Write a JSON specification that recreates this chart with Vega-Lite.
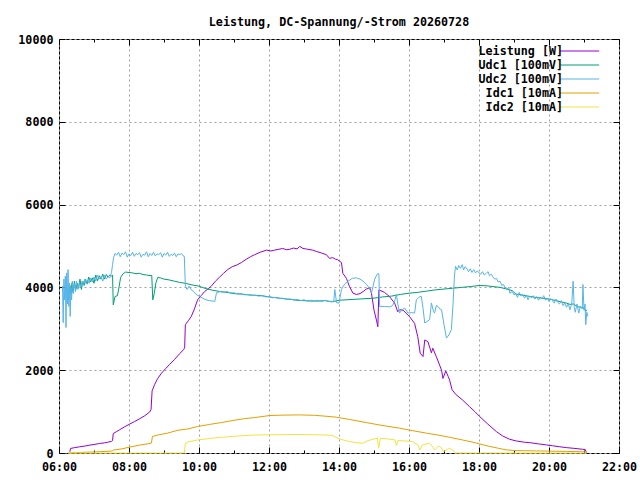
{
  "$schema": "https://vega.github.io/schema/vega-lite/v6.json",
  "width": 560,
  "height": 414,
  "autosize": {"type": "none"},
  "padding": {"left": 59, "top": 39, "right": 21, "bottom": 27},
  "background": "white",
  "title": {"text": "Leistung, DC-Spannung/-Strom 20260728", "offset": 5, "font": "DejaVu Sans Mono", "fontSize": 11.7, "fontWeight": "bold", "color": "black", "anchor": "middle"},
  "data": {"values": [
    {"s":"Leistung [W]","t":6.31,"v":30},{"s":"Leistung [W]","t":6.33,"v":110},{"s":"Leistung [W]","t":6.45,"v":130},{"s":"Leistung [W]","t":6.59,"v":150},{"s":"Leistung [W]","t":6.75,"v":170},{"s":"Leistung [W]","t":6.88,"v":190},{"s":"Leistung [W]","t":7.0,"v":205},{"s":"Leistung [W]","t":7.16,"v":230},{"s":"Leistung [W]","t":7.3,"v":245},{"s":"Leistung [W]","t":7.39,"v":260},{"s":"Leistung [W]","t":7.5,"v":280},{"s":"Leistung [W]","t":7.53,"v":300},{"s":"Leistung [W]","t":7.55,"v":470},{"s":"Leistung [W]","t":7.65,"v":520},{"s":"Leistung [W]","t":7.73,"v":560},{"s":"Leistung [W]","t":7.87,"v":630},{"s":"Leistung [W]","t":8.02,"v":700},{"s":"Leistung [W]","t":8.16,"v":760},{"s":"Leistung [W]","t":8.31,"v":830},{"s":"Leistung [W]","t":8.45,"v":900},{"s":"Leistung [W]","t":8.59,"v":990},{"s":"Leistung [W]","t":8.63,"v":1050},{"s":"Leistung [W]","t":8.66,"v":1500},{"s":"Leistung [W]","t":8.73,"v":1650},{"s":"Leistung [W]","t":8.82,"v":1800},{"s":"Leistung [W]","t":8.93,"v":1930},{"s":"Leistung [W]","t":9.05,"v":2040},{"s":"Leistung [W]","t":9.16,"v":2140},{"s":"Leistung [W]","t":9.3,"v":2260},{"s":"Leistung [W]","t":9.45,"v":2400},{"s":"Leistung [W]","t":9.56,"v":2500},{"s":"Leistung [W]","t":9.59,"v":2540},{"s":"Leistung [W]","t":9.61,"v":3100},{"s":"Leistung [W]","t":9.7,"v":3200},{"s":"Leistung [W]","t":9.78,"v":3300},{"s":"Leistung [W]","t":9.87,"v":3480},{"s":"Leistung [W]","t":9.96,"v":3700},{"s":"Leistung [W]","t":10.06,"v":3800},{"s":"Leistung [W]","t":10.16,"v":3900},{"s":"Leistung [W]","t":10.25,"v":3960},{"s":"Leistung [W]","t":10.35,"v":4030},{"s":"Leistung [W]","t":10.47,"v":4150},{"s":"Leistung [W]","t":10.59,"v":4250},{"s":"Leistung [W]","t":10.7,"v":4340},{"s":"Leistung [W]","t":10.82,"v":4430},{"s":"Leistung [W]","t":10.95,"v":4500},{"s":"Leistung [W]","t":11.08,"v":4540},{"s":"Leistung [W]","t":11.21,"v":4600},{"s":"Leistung [W]","t":11.35,"v":4680},{"s":"Leistung [W]","t":11.47,"v":4740},{"s":"Leistung [W]","t":11.59,"v":4790},{"s":"Leistung [W]","t":11.75,"v":4850},{"s":"Leistung [W]","t":11.93,"v":4900},{"s":"Leistung [W]","t":12.05,"v":4880},{"s":"Leistung [W]","t":12.16,"v":4900},{"s":"Leistung [W]","t":12.28,"v":4920},{"s":"Leistung [W]","t":12.39,"v":4940},{"s":"Leistung [W]","t":12.5,"v":4910},{"s":"Leistung [W]","t":12.59,"v":4920},{"s":"Leistung [W]","t":12.7,"v":4950},{"s":"Leistung [W]","t":12.8,"v":4930},{"s":"Leistung [W]","t":12.88,"v":4990},{"s":"Leistung [W]","t":12.97,"v":4940},{"s":"Leistung [W]","t":13.05,"v":4930},{"s":"Leistung [W]","t":13.11,"v":4920},{"s":"Leistung [W]","t":13.25,"v":4900},{"s":"Leistung [W]","t":13.35,"v":4870},{"s":"Leistung [W]","t":13.5,"v":4830},{"s":"Leistung [W]","t":13.64,"v":4790},{"s":"Leistung [W]","t":13.73,"v":4700},{"s":"Leistung [W]","t":13.82,"v":4720},{"s":"Leistung [W]","t":13.9,"v":4680},{"s":"Leistung [W]","t":13.96,"v":4670},{"s":"Leistung [W]","t":14.07,"v":4600},{"s":"Leistung [W]","t":14.11,"v":4340},{"s":"Leistung [W]","t":14.21,"v":4220},{"s":"Leistung [W]","t":14.3,"v":4020},{"s":"Leistung [W]","t":14.4,"v":3860},{"s":"Leistung [W]","t":14.5,"v":3830},{"s":"Leistung [W]","t":14.6,"v":3850},{"s":"Leistung [W]","t":14.69,"v":3900},{"s":"Leistung [W]","t":14.78,"v":3960},{"s":"Leistung [W]","t":14.88,"v":3990},{"s":"Leistung [W]","t":14.93,"v":3850},{"s":"Leistung [W]","t":15.0,"v":3450},{"s":"Leistung [W]","t":15.07,"v":3210},{"s":"Leistung [W]","t":15.11,"v":3050},{"s":"Leistung [W]","t":15.14,"v":3940},{"s":"Leistung [W]","t":15.3,"v":3880},{"s":"Leistung [W]","t":15.44,"v":3780},{"s":"Leistung [W]","t":15.59,"v":3620},{"s":"Leistung [W]","t":15.68,"v":3410},{"s":"Leistung [W]","t":15.73,"v":3460},{"s":"Leistung [W]","t":15.83,"v":3450},{"s":"Leistung [W]","t":16.02,"v":3290},{"s":"Leistung [W]","t":16.16,"v":3130},{"s":"Leistung [W]","t":16.25,"v":2810},{"s":"Leistung [W]","t":16.32,"v":2410},{"s":"Leistung [W]","t":16.4,"v":2330},{"s":"Leistung [W]","t":16.45,"v":2730},{"s":"Leistung [W]","t":16.54,"v":2690},{"s":"Leistung [W]","t":16.64,"v":2420},{"s":"Leistung [W]","t":16.68,"v":2530},{"s":"Leistung [W]","t":16.78,"v":2330},{"s":"Leistung [W]","t":16.93,"v":2000},{"s":"Leistung [W]","t":16.97,"v":1800},{"s":"Leistung [W]","t":17.05,"v":1980},{"s":"Leistung [W]","t":17.12,"v":1850},{"s":"Leistung [W]","t":17.16,"v":1760},{"s":"Leistung [W]","t":17.23,"v":1530},{"s":"Leistung [W]","t":17.33,"v":1420},{"s":"Leistung [W]","t":17.53,"v":1280},{"s":"Leistung [W]","t":17.73,"v":1120},{"s":"Leistung [W]","t":17.88,"v":1000},{"s":"Leistung [W]","t":18.02,"v":880},{"s":"Leistung [W]","t":18.25,"v":700},{"s":"Leistung [W]","t":18.5,"v":515},{"s":"Leistung [W]","t":18.68,"v":410},{"s":"Leistung [W]","t":18.88,"v":330},{"s":"Leistung [W]","t":19.07,"v":290},{"s":"Leistung [W]","t":19.3,"v":260},{"s":"Leistung [W]","t":19.45,"v":250},{"s":"Leistung [W]","t":19.7,"v":220},{"s":"Leistung [W]","t":19.93,"v":195},{"s":"Leistung [W]","t":20.1,"v":175},{"s":"Leistung [W]","t":20.31,"v":150},{"s":"Leistung [W]","t":20.5,"v":130},{"s":"Leistung [W]","t":20.74,"v":110},{"s":"Leistung [W]","t":20.96,"v":90},{"s":"Leistung [W]","t":21.04,"v":80},{"s":"Leistung [W]","t":21.07,"v":0},

    {"s":"Udc1 [100mV]","t":6.25,"v":3950},{"s":"Udc1 [100mV]","t":6.28,"v":3700},{"s":"Udc1 [100mV]","t":6.31,"v":4050},{"s":"Udc1 [100mV]","t":6.34,"v":3850},{"s":"Udc1 [100mV]","t":6.37,"v":4100},{"s":"Udc1 [100mV]","t":6.4,"v":3880},{"s":"Udc1 [100mV]","t":6.44,"v":4150},{"s":"Udc1 [100mV]","t":6.48,"v":3950},{"s":"Udc1 [100mV]","t":6.52,"v":4100},{"s":"Udc1 [100mV]","t":6.56,"v":3980},{"s":"Udc1 [100mV]","t":6.6,"v":4200},{"s":"Udc1 [100mV]","t":6.64,"v":3950},{"s":"Udc1 [100mV]","t":6.68,"v":4150},{"s":"Udc1 [100mV]","t":6.72,"v":4050},{"s":"Udc1 [100mV]","t":6.76,"v":4200},{"s":"Udc1 [100mV]","t":6.8,"v":4080},{"s":"Udc1 [100mV]","t":6.85,"v":4250},{"s":"Udc1 [100mV]","t":6.9,"v":4130},{"s":"Udc1 [100mV]","t":6.95,"v":4230},{"s":"Udc1 [100mV]","t":7.0,"v":4100},{"s":"Udc1 [100mV]","t":7.05,"v":4300},{"s":"Udc1 [100mV]","t":7.1,"v":4160},{"s":"Udc1 [100mV]","t":7.15,"v":4280},{"s":"Udc1 [100mV]","t":7.2,"v":4200},{"s":"Udc1 [100mV]","t":7.25,"v":4320},{"s":"Udc1 [100mV]","t":7.3,"v":4200},{"s":"Udc1 [100mV]","t":7.35,"v":4310},{"s":"Udc1 [100mV]","t":7.4,"v":4250},{"s":"Udc1 [100mV]","t":7.45,"v":4300},{"s":"Udc1 [100mV]","t":7.5,"v":4270},{"s":"Udc1 [100mV]","t":7.53,"v":4300},{"s":"Udc1 [100mV]","t":7.55,"v":3580},{"s":"Udc1 [100mV]","t":7.6,"v":3780},{"s":"Udc1 [100mV]","t":7.67,"v":3800},{"s":"Udc1 [100mV]","t":7.72,"v":4030},{"s":"Udc1 [100mV]","t":7.76,"v":4240},{"s":"Udc1 [100mV]","t":7.83,"v":4330},{"s":"Udc1 [100mV]","t":7.9,"v":4370},{"s":"Udc1 [100mV]","t":8.0,"v":4360},{"s":"Udc1 [100mV]","t":8.1,"v":4350},{"s":"Udc1 [100mV]","t":8.2,"v":4330},{"s":"Udc1 [100mV]","t":8.3,"v":4340},{"s":"Udc1 [100mV]","t":8.4,"v":4310},{"s":"Udc1 [100mV]","t":8.5,"v":4300},{"s":"Udc1 [100mV]","t":8.6,"v":4285},{"s":"Udc1 [100mV]","t":8.65,"v":4290},{"s":"Udc1 [100mV]","t":8.68,"v":3700},{"s":"Udc1 [100mV]","t":8.72,"v":3850},{"s":"Udc1 [100mV]","t":8.77,"v":4110},{"s":"Udc1 [100mV]","t":8.82,"v":4240},{"s":"Udc1 [100mV]","t":8.9,"v":4230},{"s":"Udc1 [100mV]","t":9.0,"v":4200},{"s":"Udc1 [100mV]","t":9.15,"v":4180},{"s":"Udc1 [100mV]","t":9.3,"v":4150},{"s":"Udc1 [100mV]","t":9.45,"v":4120},{"s":"Udc1 [100mV]","t":9.6,"v":4100},{"s":"Udc1 [100mV]","t":9.8,"v":4060},{"s":"Udc1 [100mV]","t":10.0,"v":4030},{"s":"Udc1 [100mV]","t":10.2,"v":3970},{"s":"Udc1 [100mV]","t":10.4,"v":3930},{"s":"Udc1 [100mV]","t":10.6,"v":3900},{"s":"Udc1 [100mV]","t":10.8,"v":3880},{"s":"Udc1 [100mV]","t":11.0,"v":3850},{"s":"Udc1 [100mV]","t":11.2,"v":3840},{"s":"Udc1 [100mV]","t":11.4,"v":3820},{"s":"Udc1 [100mV]","t":11.6,"v":3810},{"s":"Udc1 [100mV]","t":11.8,"v":3800},{"s":"Udc1 [100mV]","t":12.0,"v":3770},{"s":"Udc1 [100mV]","t":12.2,"v":3750},{"s":"Udc1 [100mV]","t":12.4,"v":3730},{"s":"Udc1 [100mV]","t":12.6,"v":3710},{"s":"Udc1 [100mV]","t":12.8,"v":3690},{"s":"Udc1 [100mV]","t":13.0,"v":3680},{"s":"Udc1 [100mV]","t":13.2,"v":3670},{"s":"Udc1 [100mV]","t":13.4,"v":3670},{"s":"Udc1 [100mV]","t":13.6,"v":3680},{"s":"Udc1 [100mV]","t":13.8,"v":3650},{"s":"Udc1 [100mV]","t":14.0,"v":3690},{"s":"Udc1 [100mV]","t":14.2,"v":3700},{"s":"Udc1 [100mV]","t":14.4,"v":3710},{"s":"Udc1 [100mV]","t":14.6,"v":3720},{"s":"Udc1 [100mV]","t":14.8,"v":3730},{"s":"Udc1 [100mV]","t":15.0,"v":3740},{"s":"Udc1 [100mV]","t":15.25,"v":3770},{"s":"Udc1 [100mV]","t":15.5,"v":3790},{"s":"Udc1 [100mV]","t":15.75,"v":3830},{"s":"Udc1 [100mV]","t":16.0,"v":3860},{"s":"Udc1 [100mV]","t":16.25,"v":3880},{"s":"Udc1 [100mV]","t":16.5,"v":3910},{"s":"Udc1 [100mV]","t":16.75,"v":3940},{"s":"Udc1 [100mV]","t":17.0,"v":3960},{"s":"Udc1 [100mV]","t":17.25,"v":3980},{"s":"Udc1 [100mV]","t":17.5,"v":4000},{"s":"Udc1 [100mV]","t":17.75,"v":4020},{"s":"Udc1 [100mV]","t":18.0,"v":4045},{"s":"Udc1 [100mV]","t":18.2,"v":4040},{"s":"Udc1 [100mV]","t":18.4,"v":4020},{"s":"Udc1 [100mV]","t":18.6,"v":4000},{"s":"Udc1 [100mV]","t":18.8,"v":3960},{"s":"Udc1 [100mV]","t":18.95,"v":3920},{"s":"Udc1 [100mV]","t":19.05,"v":3840},{"s":"Udc1 [100mV]","t":19.2,"v":3820},{"s":"Udc1 [100mV]","t":19.4,"v":3790},{"s":"Udc1 [100mV]","t":19.6,"v":3760},{"s":"Udc1 [100mV]","t":19.8,"v":3740},{"s":"Udc1 [100mV]","t":20.0,"v":3720},{"s":"Udc1 [100mV]","t":20.2,"v":3680},{"s":"Udc1 [100mV]","t":20.35,"v":3650},{"s":"Udc1 [100mV]","t":20.5,"v":3620},{"s":"Udc1 [100mV]","t":20.6,"v":3590},{"s":"Udc1 [100mV]","t":20.7,"v":3600},{"s":"Udc1 [100mV]","t":20.8,"v":3540},{"s":"Udc1 [100mV]","t":20.9,"v":3520},{"s":"Udc1 [100mV]","t":21.0,"v":3500},{"s":"Udc1 [100mV]","t":21.05,"v":3420},{"s":"Udc1 [100mV]","t":21.08,"v":3460},

    {"s":"Udc2 [100mV]","t":6.1,"v":4030},{"s":"Udc2 [100mV]","t":6.12,"v":3150},{"s":"Udc2 [100mV]","t":6.14,"v":4200},{"s":"Udc2 [100mV]","t":6.16,"v":3700},{"s":"Udc2 [100mV]","t":6.18,"v":4270},{"s":"Udc2 [100mV]","t":6.2,"v":3030},{"s":"Udc2 [100mV]","t":6.22,"v":4350},{"s":"Udc2 [100mV]","t":6.24,"v":3600},{"s":"Udc2 [100mV]","t":6.26,"v":4430},{"s":"Udc2 [100mV]","t":6.28,"v":3540},{"s":"Udc2 [100mV]","t":6.3,"v":4100},{"s":"Udc2 [100mV]","t":6.32,"v":3300},{"s":"Udc2 [100mV]","t":6.34,"v":4000},{"s":"Udc2 [100mV]","t":6.36,"v":3700},{"s":"Udc2 [100mV]","t":6.38,"v":4150},{"s":"Udc2 [100mV]","t":6.41,"v":3850},{"s":"Udc2 [100mV]","t":6.44,"v":4100},{"s":"Udc2 [100mV]","t":6.47,"v":3900},{"s":"Udc2 [100mV]","t":6.5,"v":4150},{"s":"Udc2 [100mV]","t":6.54,"v":3950},{"s":"Udc2 [100mV]","t":6.58,"v":4120},{"s":"Udc2 [100mV]","t":6.62,"v":4000},{"s":"Udc2 [100mV]","t":6.66,"v":4150},{"s":"Udc2 [100mV]","t":6.7,"v":4050},{"s":"Udc2 [100mV]","t":6.74,"v":4200},{"s":"Udc2 [100mV]","t":6.78,"v":4080},{"s":"Udc2 [100mV]","t":6.82,"v":4180},{"s":"Udc2 [100mV]","t":6.86,"v":4100},{"s":"Udc2 [100mV]","t":6.9,"v":4220},{"s":"Udc2 [100mV]","t":6.95,"v":4130},{"s":"Udc2 [100mV]","t":7.0,"v":4250},{"s":"Udc2 [100mV]","t":7.05,"v":4150},{"s":"Udc2 [100mV]","t":7.1,"v":4300},{"s":"Udc2 [100mV]","t":7.15,"v":4200},{"s":"Udc2 [100mV]","t":7.2,"v":4260},{"s":"Udc2 [100mV]","t":7.25,"v":4150},{"s":"Udc2 [100mV]","t":7.3,"v":4300},{"s":"Udc2 [100mV]","t":7.35,"v":4200},{"s":"Udc2 [100mV]","t":7.4,"v":4260},{"s":"Udc2 [100mV]","t":7.45,"v":4230},{"s":"Udc2 [100mV]","t":7.5,"v":4360},{"s":"Udc2 [100mV]","t":7.53,"v":4550},{"s":"Udc2 [100mV]","t":7.56,"v":4720},
    {"s":"Udc2 [100mV]","t":7.6,"v":4820},{"s":"Udc2 [100mV]","t":7.65,"v":4780},{"s":"Udc2 [100mV]","t":7.7,"v":4850},{"s":"Udc2 [100mV]","t":7.75,"v":4740},{"s":"Udc2 [100mV]","t":7.8,"v":4830},{"s":"Udc2 [100mV]","t":7.85,"v":4790},{"s":"Udc2 [100mV]","t":7.9,"v":4860},{"s":"Udc2 [100mV]","t":7.95,"v":4730},{"s":"Udc2 [100mV]","t":8.0,"v":4810},{"s":"Udc2 [100mV]","t":8.05,"v":4770},{"s":"Udc2 [100mV]","t":8.1,"v":4850},{"s":"Udc2 [100mV]","t":8.15,"v":4750},{"s":"Udc2 [100mV]","t":8.2,"v":4820},{"s":"Udc2 [100mV]","t":8.25,"v":4790},{"s":"Udc2 [100mV]","t":8.3,"v":4840},{"s":"Udc2 [100mV]","t":8.35,"v":4730},{"s":"Udc2 [100mV]","t":8.4,"v":4800},{"s":"Udc2 [100mV]","t":8.45,"v":4780},{"s":"Udc2 [100mV]","t":8.5,"v":4860},{"s":"Udc2 [100mV]","t":8.55,"v":4740},{"s":"Udc2 [100mV]","t":8.6,"v":4820},{"s":"Udc2 [100mV]","t":8.65,"v":4770},{"s":"Udc2 [100mV]","t":8.7,"v":4850},{"s":"Udc2 [100mV]","t":8.75,"v":4760},{"s":"Udc2 [100mV]","t":8.8,"v":4810},{"s":"Udc2 [100mV]","t":8.85,"v":4790},{"s":"Udc2 [100mV]","t":8.9,"v":4840},{"s":"Udc2 [100mV]","t":8.95,"v":4730},{"s":"Udc2 [100mV]","t":9.0,"v":4820},{"s":"Udc2 [100mV]","t":9.05,"v":4780},{"s":"Udc2 [100mV]","t":9.1,"v":4850},{"s":"Udc2 [100mV]","t":9.15,"v":4750},{"s":"Udc2 [100mV]","t":9.2,"v":4800},{"s":"Udc2 [100mV]","t":9.25,"v":4770},{"s":"Udc2 [100mV]","t":9.3,"v":4830},{"s":"Udc2 [100mV]","t":9.35,"v":4740},{"s":"Udc2 [100mV]","t":9.4,"v":4810},{"s":"Udc2 [100mV]","t":9.45,"v":4790},{"s":"Udc2 [100mV]","t":9.5,"v":4820},{"s":"Udc2 [100mV]","t":9.55,"v":4760},
    {"s":"Udc2 [100mV]","t":9.58,"v":4750},{"s":"Udc2 [100mV]","t":9.61,"v":4030},{"s":"Udc2 [100mV]","t":9.66,"v":3950},{"s":"Udc2 [100mV]","t":9.72,"v":4030},{"s":"Udc2 [100mV]","t":9.78,"v":3940},{"s":"Udc2 [100mV]","t":9.85,"v":3900},{"s":"Udc2 [100mV]","t":9.92,"v":3830},{"s":"Udc2 [100mV]","t":10.0,"v":3790},{"s":"Udc2 [100mV]","t":10.1,"v":3740},{"s":"Udc2 [100mV]","t":10.2,"v":3700},{"s":"Udc2 [100mV]","t":10.3,"v":3680},{"s":"Udc2 [100mV]","t":10.4,"v":3670},{"s":"Udc2 [100mV]","t":10.45,"v":3660},{"s":"Udc2 [100mV]","t":10.5,"v":3870},{"s":"Udc2 [100mV]","t":10.6,"v":3900},{"s":"Udc2 [100mV]","t":10.7,"v":3880},{"s":"Udc2 [100mV]","t":10.8,"v":3900},{"s":"Udc2 [100mV]","t":10.9,"v":3860},{"s":"Udc2 [100mV]","t":11.0,"v":3870},{"s":"Udc2 [100mV]","t":11.1,"v":3840},{"s":"Udc2 [100mV]","t":11.2,"v":3850},{"s":"Udc2 [100mV]","t":11.3,"v":3820},{"s":"Udc2 [100mV]","t":11.4,"v":3830},{"s":"Udc2 [100mV]","t":11.5,"v":3800},{"s":"Udc2 [100mV]","t":11.6,"v":3810},{"s":"Udc2 [100mV]","t":11.7,"v":3790},{"s":"Udc2 [100mV]","t":11.8,"v":3800},{"s":"Udc2 [100mV]","t":11.9,"v":3770},{"s":"Udc2 [100mV]","t":12.0,"v":3780},{"s":"Udc2 [100mV]","t":12.1,"v":3750},{"s":"Udc2 [100mV]","t":12.2,"v":3760},{"s":"Udc2 [100mV]","t":12.3,"v":3730},{"s":"Udc2 [100mV]","t":12.4,"v":3740},{"s":"Udc2 [100mV]","t":12.5,"v":3710},{"s":"Udc2 [100mV]","t":12.6,"v":3720},{"s":"Udc2 [100mV]","t":12.7,"v":3700},{"s":"Udc2 [100mV]","t":12.8,"v":3710},{"s":"Udc2 [100mV]","t":12.9,"v":3680},{"s":"Udc2 [100mV]","t":13.0,"v":3700},{"s":"Udc2 [100mV]","t":13.1,"v":3670},{"s":"Udc2 [100mV]","t":13.2,"v":3690},{"s":"Udc2 [100mV]","t":13.3,"v":3670},{"s":"Udc2 [100mV]","t":13.4,"v":3690},{"s":"Udc2 [100mV]","t":13.5,"v":3660},{"s":"Udc2 [100mV]","t":13.6,"v":3690},{"s":"Udc2 [100mV]","t":13.7,"v":3665},{"s":"Udc2 [100mV]","t":13.85,"v":3660},{"s":"Udc2 [100mV]","t":13.88,"v":3950},{"s":"Udc2 [100mV]","t":13.93,"v":3630},{"s":"Udc2 [100mV]","t":14.0,"v":3620},{"s":"Udc2 [100mV]","t":14.07,"v":3950},{"s":"Udc2 [100mV]","t":14.16,"v":4080},{"s":"Udc2 [100mV]","t":14.26,"v":4150},{"s":"Udc2 [100mV]","t":14.38,"v":4220},{"s":"Udc2 [100mV]","t":14.5,"v":4230},{"s":"Udc2 [100mV]","t":14.6,"v":4200},{"s":"Udc2 [100mV]","t":14.69,"v":4150},{"s":"Udc2 [100mV]","t":14.77,"v":4080},{"s":"Udc2 [100mV]","t":14.83,"v":4030},{"s":"Udc2 [100mV]","t":14.93,"v":3870},{"s":"Udc2 [100mV]","t":15.02,"v":4200},{"s":"Udc2 [100mV]","t":15.1,"v":4330},{"s":"Udc2 [100mV]","t":15.14,"v":4330},{"s":"Udc2 [100mV]","t":15.16,"v":3540},{"s":"Udc2 [100mV]","t":15.3,"v":3540},{"s":"Udc2 [100mV]","t":15.45,"v":3530},{"s":"Udc2 [100mV]","t":15.53,"v":3560},{"s":"Udc2 [100mV]","t":15.6,"v":3700},{"s":"Udc2 [100mV]","t":15.64,"v":3825},{"s":"Udc2 [100mV]","t":15.7,"v":3500},{"s":"Udc2 [100mV]","t":15.73,"v":3380},{"s":"Udc2 [100mV]","t":15.8,"v":3460},{"s":"Udc2 [100mV]","t":15.88,"v":3500},{"s":"Udc2 [100mV]","t":15.97,"v":3380},{"s":"Udc2 [100mV]","t":16.08,"v":3390},{"s":"Udc2 [100mV]","t":16.16,"v":3380},{"s":"Udc2 [100mV]","t":16.21,"v":3700},{"s":"Udc2 [100mV]","t":16.28,"v":3760},{"s":"Udc2 [100mV]","t":16.35,"v":3785},{"s":"Udc2 [100mV]","t":16.4,"v":3500},{"s":"Udc2 [100mV]","t":16.45,"v":3140},{"s":"Udc2 [100mV]","t":16.52,"v":3180},{"s":"Udc2 [100mV]","t":16.59,"v":3220},{"s":"Udc2 [100mV]","t":16.64,"v":3625},{"s":"Udc2 [100mV]","t":16.7,"v":3420},{"s":"Udc2 [100mV]","t":16.73,"v":3380},{"s":"Udc2 [100mV]","t":16.78,"v":3560},{"s":"Udc2 [100mV]","t":16.83,"v":3540},{"s":"Udc2 [100mV]","t":16.88,"v":3480},{"s":"Udc2 [100mV]","t":16.93,"v":3460},{"s":"Udc2 [100mV]","t":17.0,"v":3100},{"s":"Udc2 [100mV]","t":17.07,"v":2775},{"s":"Udc2 [100mV]","t":17.14,"v":2850},{"s":"Udc2 [100mV]","t":17.21,"v":2980},{"s":"Udc2 [100mV]","t":17.26,"v":3625},{"s":"Udc2 [100mV]","t":17.3,"v":4300},{"s":"Udc2 [100mV]","t":17.33,"v":4510},{"s":"Udc2 [100mV]","t":17.38,"v":4420},{"s":"Udc2 [100mV]","t":17.42,"v":4530},{"s":"Udc2 [100mV]","t":17.47,"v":4460},{"s":"Udc2 [100mV]","t":17.52,"v":4550},{"s":"Udc2 [100mV]","t":17.56,"v":4420},{"s":"Udc2 [100mV]","t":17.6,"v":4500},{"s":"Udc2 [100mV]","t":17.64,"v":4470},{"s":"Udc2 [100mV]","t":17.7,"v":4380},{"s":"Udc2 [100mV]","t":17.75,"v":4450},{"s":"Udc2 [100mV]","t":17.8,"v":4360},{"s":"Udc2 [100mV]","t":17.85,"v":4430},{"s":"Udc2 [100mV]","t":17.9,"v":4350},{"s":"Udc2 [100mV]","t":17.95,"v":4400},{"s":"Udc2 [100mV]","t":18.0,"v":4350},{"s":"Udc2 [100mV]","t":18.05,"v":4320},{"s":"Udc2 [100mV]","t":18.1,"v":4380},{"s":"Udc2 [100mV]","t":18.15,"v":4300},{"s":"Udc2 [100mV]","t":18.21,"v":4340},{"s":"Udc2 [100mV]","t":18.26,"v":4380},{"s":"Udc2 [100mV]","t":18.3,"v":4280},{"s":"Udc2 [100mV]","t":18.35,"v":4320},{"s":"Udc2 [100mV]","t":18.4,"v":4250},{"s":"Udc2 [100mV]","t":18.45,"v":4200},{"s":"Udc2 [100mV]","t":18.5,"v":4220},{"s":"Udc2 [100mV]","t":18.55,"v":4130},{"s":"Udc2 [100mV]","t":18.6,"v":4150},{"s":"Udc2 [100mV]","t":18.65,"v":4050},{"s":"Udc2 [100mV]","t":18.7,"v":4070},{"s":"Udc2 [100mV]","t":18.75,"v":3980},{"s":"Udc2 [100mV]","t":18.8,"v":3960},{"s":"Udc2 [100mV]","t":18.85,"v":4000},{"s":"Udc2 [100mV]","t":18.88,"v":3860},{"s":"Udc2 [100mV]","t":18.95,"v":3900},{"s":"Udc2 [100mV]","t":19.0,"v":3820},{"s":"Udc2 [100mV]","t":19.05,"v":3850},{"s":"Udc2 [100mV]","t":19.1,"v":3760},{"s":"Udc2 [100mV]","t":19.15,"v":3880},{"s":"Udc2 [100mV]","t":19.2,"v":3790},{"s":"Udc2 [100mV]","t":19.25,"v":3830},{"s":"Udc2 [100mV]","t":19.3,"v":3740},{"s":"Udc2 [100mV]","t":19.35,"v":3820},{"s":"Udc2 [100mV]","t":19.4,"v":3700},{"s":"Udc2 [100mV]","t":19.45,"v":3790},{"s":"Udc2 [100mV]","t":19.5,"v":3750},{"s":"Udc2 [100mV]","t":19.55,"v":3800},{"s":"Udc2 [100mV]","t":19.6,"v":3720},{"s":"Udc2 [100mV]","t":19.65,"v":3780},{"s":"Udc2 [100mV]","t":19.7,"v":3690},{"s":"Udc2 [100mV]","t":19.75,"v":3760},{"s":"Udc2 [100mV]","t":19.8,"v":3730},{"s":"Udc2 [100mV]","t":19.85,"v":3800},{"s":"Udc2 [100mV]","t":19.9,"v":3690},{"s":"Udc2 [100mV]","t":19.95,"v":3740},{"s":"Udc2 [100mV]","t":20.0,"v":3660},{"s":"Udc2 [100mV]","t":20.05,"v":3730},{"s":"Udc2 [100mV]","t":20.1,"v":3680},{"s":"Udc2 [100mV]","t":20.15,"v":3620},{"s":"Udc2 [100mV]","t":20.2,"v":3720},{"s":"Udc2 [100mV]","t":20.25,"v":3640},{"s":"Udc2 [100mV]","t":20.3,"v":3600},{"s":"Udc2 [100mV]","t":20.35,"v":3680},{"s":"Udc2 [100mV]","t":20.4,"v":3560},{"s":"Udc2 [100mV]","t":20.45,"v":3620},{"s":"Udc2 [100mV]","t":20.5,"v":3520},{"s":"Udc2 [100mV]","t":20.55,"v":3600},{"s":"Udc2 [100mV]","t":20.6,"v":3460},{"s":"Udc2 [100mV]","t":20.65,"v":3620},{"s":"Udc2 [100mV]","t":20.69,"v":4150},{"s":"Udc2 [100mV]","t":20.72,"v":3520},{"s":"Udc2 [100mV]","t":20.75,"v":3400},{"s":"Udc2 [100mV]","t":20.8,"v":3600},{"s":"Udc2 [100mV]","t":20.85,"v":3380},{"s":"Udc2 [100mV]","t":20.9,"v":3550},{"s":"Udc2 [100mV]","t":20.95,"v":3480},{"s":"Udc2 [100mV]","t":20.97,"v":4070},{"s":"Udc2 [100mV]","t":21.0,"v":3450},{"s":"Udc2 [100mV]","t":21.03,"v":3600},{"s":"Udc2 [100mV]","t":21.05,"v":3100},{"s":"Udc2 [100mV]","t":21.08,"v":3400},{"s":"Udc2 [100mV]","t":21.11,"v":3300},

    {"s":"Idc1 [10mA]","t":6.26,"v":0},{"s":"Idc1 [10mA]","t":6.5,"v":10},{"s":"Idc1 [10mA]","t":7.0,"v":25},{"s":"Idc1 [10mA]","t":7.5,"v":45},{"s":"Idc1 [10mA]","t":7.53,"v":50},{"s":"Idc1 [10mA]","t":7.55,"v":70},{"s":"Idc1 [10mA]","t":7.8,"v":100},{"s":"Idc1 [10mA]","t":8.0,"v":140},{"s":"Idc1 [10mA]","t":8.3,"v":190},{"s":"Idc1 [10mA]","t":8.6,"v":230},{"s":"Idc1 [10mA]","t":8.64,"v":240},{"s":"Idc1 [10mA]","t":8.67,"v":400},{"s":"Idc1 [10mA]","t":8.85,"v":440},{"s":"Idc1 [10mA]","t":9.1,"v":480},{"s":"Idc1 [10mA]","t":9.4,"v":550},{"s":"Idc1 [10mA]","t":9.68,"v":580},{"s":"Idc1 [10mA]","t":9.96,"v":640},{"s":"Idc1 [10mA]","t":10.3,"v":690},{"s":"Idc1 [10mA]","t":10.64,"v":735},{"s":"Idc1 [10mA]","t":11.0,"v":790},{"s":"Idc1 [10mA]","t":11.3,"v":830},{"s":"Idc1 [10mA]","t":11.59,"v":855},{"s":"Idc1 [10mA]","t":11.8,"v":880},{"s":"Idc1 [10mA]","t":12.02,"v":905},{"s":"Idc1 [10mA]","t":12.4,"v":915},{"s":"Idc1 [10mA]","t":12.88,"v":920},{"s":"Idc1 [10mA]","t":13.3,"v":910},{"s":"Idc1 [10mA]","t":13.6,"v":890},{"s":"Idc1 [10mA]","t":13.93,"v":865},{"s":"Idc1 [10mA]","t":14.3,"v":810},{"s":"Idc1 [10mA]","t":14.78,"v":735},{"s":"Idc1 [10mA]","t":15.2,"v":670},{"s":"Idc1 [10mA]","t":15.73,"v":600},{"s":"Idc1 [10mA]","t":16.1,"v":540},{"s":"Idc1 [10mA]","t":16.5,"v":480},{"s":"Idc1 [10mA]","t":16.85,"v":430},{"s":"Idc1 [10mA]","t":17.16,"v":380},{"s":"Idc1 [10mA]","t":17.53,"v":315},{"s":"Idc1 [10mA]","t":17.8,"v":265},{"s":"Idc1 [10mA]","t":18.02,"v":220},{"s":"Idc1 [10mA]","t":18.3,"v":160},{"s":"Idc1 [10mA]","t":18.55,"v":115},{"s":"Idc1 [10mA]","t":18.78,"v":75},{"s":"Idc1 [10mA]","t":19.0,"v":60},{"s":"Idc1 [10mA]","t":19.3,"v":55},{"s":"Idc1 [10mA]","t":19.64,"v":50},{"s":"Idc1 [10mA]","t":20.0,"v":45},{"s":"Idc1 [10mA]","t":20.5,"v":38},{"s":"Idc1 [10mA]","t":20.96,"v":30},{"s":"Idc1 [10mA]","t":21.05,"v":30},{"s":"Idc1 [10mA]","t":21.07,"v":0},

    {"s":"Idc2 [10mA]","t":6.26,"v":0},{"s":"Idc2 [10mA]","t":7.0,"v":0},{"s":"Idc2 [10mA]","t":8.0,"v":0},{"s":"Idc2 [10mA]","t":9.0,"v":0},{"s":"Idc2 [10mA]","t":9.58,"v":0},{"s":"Idc2 [10mA]","t":9.61,"v":235},{"s":"Idc2 [10mA]","t":9.7,"v":270},{"s":"Idc2 [10mA]","t":9.96,"v":315},{"s":"Idc2 [10mA]","t":10.3,"v":350},{"s":"Idc2 [10mA]","t":10.64,"v":380},{"s":"Idc2 [10mA]","t":11.1,"v":410},{"s":"Idc2 [10mA]","t":11.59,"v":435},{"s":"Idc2 [10mA]","t":12.0,"v":440},{"s":"Idc2 [10mA]","t":12.5,"v":445},{"s":"Idc2 [10mA]","t":13.0,"v":445},{"s":"Idc2 [10mA]","t":13.3,"v":440},{"s":"Idc2 [10mA]","t":13.6,"v":435},{"s":"Idc2 [10mA]","t":13.8,"v":425},{"s":"Idc2 [10mA]","t":13.97,"v":355},{"s":"Idc2 [10mA]","t":14.1,"v":320},{"s":"Idc2 [10mA]","t":14.3,"v":275},{"s":"Idc2 [10mA]","t":14.5,"v":250},{"s":"Idc2 [10mA]","t":14.68,"v":235},{"s":"Idc2 [10mA]","t":14.83,"v":300},{"s":"Idc2 [10mA]","t":15.0,"v":340},{"s":"Idc2 [10mA]","t":15.1,"v":355},{"s":"Idc2 [10mA]","t":15.13,"v":115},{"s":"Idc2 [10mA]","t":15.18,"v":355},{"s":"Idc2 [10mA]","t":15.4,"v":340},{"s":"Idc2 [10mA]","t":15.6,"v":315},{"s":"Idc2 [10mA]","t":15.64,"v":180},{"s":"Idc2 [10mA]","t":15.68,"v":300},{"s":"Idc2 [10mA]","t":15.9,"v":290},{"s":"Idc2 [10mA]","t":16.1,"v":275},{"s":"Idc2 [10mA]","t":16.25,"v":200},{"s":"Idc2 [10mA]","t":16.31,"v":75},{"s":"Idc2 [10mA]","t":16.38,"v":195},{"s":"Idc2 [10mA]","t":16.59,"v":235},{"s":"Idc2 [10mA]","t":16.68,"v":150},{"s":"Idc2 [10mA]","t":16.73,"v":75},{"s":"Idc2 [10mA]","t":16.85,"v":170},{"s":"Idc2 [10mA]","t":16.93,"v":120},{"s":"Idc2 [10mA]","t":16.98,"v":30},{"s":"Idc2 [10mA]","t":17.1,"v":90},{"s":"Idc2 [10mA]","t":17.16,"v":115},{"s":"Idc2 [10mA]","t":17.25,"v":70},{"s":"Idc2 [10mA]","t":17.33,"v":0},{"s":"Idc2 [10mA]","t":18.0,"v":0},{"s":"Idc2 [10mA]","t":19.0,"v":0},{"s":"Idc2 [10mA]","t":20.0,"v":0},{"s":"Idc2 [10mA]","t":21.07,"v":0}
  ]},
  "layer": [
    {
      "mark": {"type": "line", "strokeWidth": 1},
      "encoding": {
        "x": {
          "field": "t", "type": "quantitative",
          "scale": {"domain": [6, 22], "nice": false, "zero": false},
          "axis": {
            "values": [6,7,8,9,10,11,12,13,14,15,16,17,18,19,20,21,22],
            "labelExpr": "datum.value % 2 == 0 ? (datum.value < 10 ? '0' : '') + datum.value + ':00' : ''",
            "tickSize": {"condition": {"test": "datum.value % 2 == 1", "value": -3}, "value": -6},
            "gridOpacity": {"condition": {"test": "datum.value % 2 == 1", "value": 0}, "value": 1},
            "labelPadding": 14,
            "labelFlush": false,
            "labelOverlap": false
          }
        },
        "y": {
          "field": "v", "type": "quantitative",
          "scale": {"domain": [0, 10000], "nice": false},
          "axis": {"values": [0,2000,4000,6000,8000,10000], "format": "d", "tickSize": -6, "labelPadding": 12}
        },
        "color": {
          "field": "s", "type": "nominal",
          "scale": {
            "domain": ["Leistung [W]", "Udc1 [100mV]", "Udc2 [100mV]", "Idc1 [10mA]", "Idc2 [10mA]"],
            "range": ["#9400d3", "#009e73", "#56b4e9", "#e69f00", "#f0e442"]
          },
          "legend": {
            "title": null, "orient": "none", "legendX": 491, "legendY": 5,
            "symbolType": "M-3,0H3", "symbolSize": 169, "symbolStrokeWidth": 1,
            "labelAlign": "right", "labelOffset": -23.7, "symbolOffset": 22.7,
            "rowPadding": 0, "padding": 0
          }
        }
      }
    },
    {
      "mark": {"type": "line", "strokeOpacity": 0},
      "encoding": {
        "x": {
          "field": "t", "type": "quantitative",
          "axis": {
            "orient": "top", "labels": false, "grid": false,
            "values": [6,7,8,9,10,11,12,13,14,15,16,17,18,19,20,21,22],
            "tickSize": {"condition": {"test": "datum.value % 2 == 1", "value": -3}, "value": -6}
          }
        },
        "y": {
          "field": "v", "type": "quantitative",
          "axis": {"orient": "right", "labels": false, "grid": false, "values": [0,2000,4000,6000,8000,10000], "tickSize": -6}
        },
        "detail": {"field": "s"}
      }
    }
  ],
  "resolve": {"axis": {"x": "independent", "y": "independent"}},
  "config": {
    "view": {"stroke": "black", "strokeWidth": 1},
    "axis": {
      "title": null, "domain": false,
      "labelFont": "DejaVu Sans Mono", "labelFontSize": 11.7, "labelFontWeight": "bold", "labelColor": "black",
      "tickColor": "black", "tickWidth": 1,
      "grid": true, "gridColor": "#a0a0a0", "gridDash": [2, 3], "gridWidth": 1
    },
    "legend": {"labelFont": "DejaVu Sans Mono", "labelFontSize": 11.7, "labelFontWeight": "bold", "labelColor": "black", "labelLimit": 200}
  }
}
